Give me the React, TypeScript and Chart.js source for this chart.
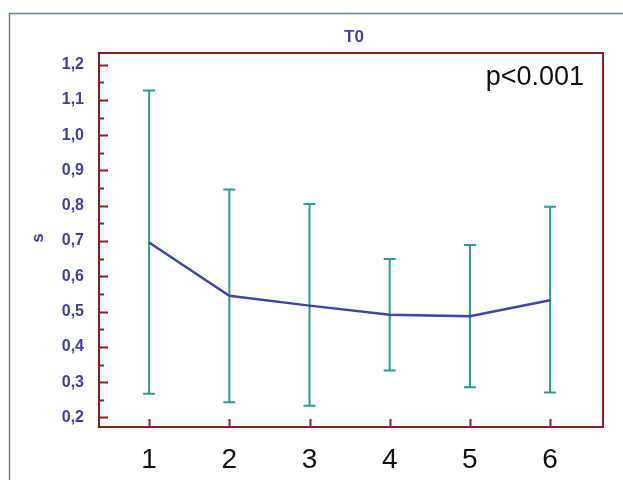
import React, { useEffect, useRef } from "react";
import { Chart, registerables } from "chart.js";

Chart.register(...registerables);

const categories = [1, 2, 3, 4, 5, 6];
const meanValues = [0.696, 0.545, 0.517, 0.491, 0.487, 0.532];
const upperValues = [1.127, 0.846, 0.805, 0.649, 0.689, 0.797];
const lowerValues = [0.267, 0.243, 0.233, 0.333, 0.286, 0.271];
const yTickValues = [0.2, 0.3, 0.4, 0.5, 0.6, 0.7, 0.8, 0.9, 1.0, 1.1, 1.2];
const yMinorTickValues = [0.25, 0.35, 0.45, 0.55, 0.65, 0.75, 0.85, 0.95, 1.05, 1.15];
const xTickValues = [1, 2, 3, 4, 5, 6];
const chartTitle = "T0";
const yAxisTitle = "s";
const annotation = "p<0.001";

const AXIS_RED = "#8e1f1f";
const LABEL_BLUE = "#3f3f9c";
const ERR_TEAL = "#2b9a96";
const LINE_BLUE = "#3b44a8";
const FRAME = "#62808f";
const FONT = "Arial, 'Liberation Sans', sans-serif";

const decorPlugin = {
  id: "decor",
  beforeDatasetsDraw(chart: any) {
    const { ctx, scales } = chart;
    const x = scales.x;
    const y = scales.y;
    ctx.save();
    ctx.strokeStyle = ERR_TEAL;
    ctx.lineWidth = 2;
    categories.forEach((c, i) => {
      const px = x.getPixelForValue(c);
      const pu = y.getPixelForValue(upperValues[i]);
      const pl = y.getPixelForValue(lowerValues[i]);
      ctx.beginPath();
      ctx.moveTo(px, pu);
      ctx.lineTo(px, pl);
      ctx.moveTo(px - 6, pu);
      ctx.lineTo(px + 6, pu);
      ctx.moveTo(px - 6, pl);
      ctx.lineTo(px + 6, pl);
      ctx.stroke();
    });
    ctx.restore();
  },
  afterDraw(chart: any) {
    const { ctx, chartArea, scales } = chart;
    const x = scales.x;
    const y = scales.y;
    const { left, right, top, bottom } = chartArea;
    ctx.save();
    // outer frame
    ctx.strokeStyle = FRAME;
    ctx.lineWidth = 1.5;
    ctx.beginPath();
    ctx.moveTo(9.5, 490);
    ctx.lineTo(9.5, 13.5);
    ctx.lineTo(640, 13.5);
    ctx.stroke();
    // plot frame
    ctx.strokeStyle = AXIS_RED;
    ctx.lineWidth = 2;
    ctx.strokeRect(left, top, right - left, bottom - top);
    // ticks
    ctx.beginPath();
    yTickValues.forEach((v) => {
      const py = Math.round(y.getPixelForValue(v)) + 0.5;
      ctx.moveTo(left, py);
      ctx.lineTo(left + 9, py);
    });
    yMinorTickValues.forEach((v) => {
      const py = Math.round(y.getPixelForValue(v)) + 0.5;
      ctx.moveTo(left, py);
      ctx.lineTo(left + 5, py);
    });
    xTickValues.forEach((v) => {
      const px = Math.round(x.getPixelForValue(v)) + 0.5;
      ctx.moveTo(px, bottom);
      ctx.lineTo(px, bottom - 8);
    });
    ctx.stroke();
    // title
    ctx.fillStyle = LABEL_BLUE;
    ctx.font = "bold 17px " + FONT;
    ctx.textAlign = "center";
    ctx.textBaseline = "middle";
    ctx.fillText(chartTitle, 354, 37);
    // y title
    ctx.save();
    ctx.translate(38, 238);
    ctx.rotate(-Math.PI / 2);
    ctx.font = "bold 17px " + FONT;
    ctx.fillText(yAxisTitle, 0, 0);
    ctx.restore();
    // annotation
    ctx.fillStyle = "#111";
    ctx.font = "27px " + FONT;
    ctx.textAlign = "right";
    ctx.textBaseline = "alphabetic";
    ctx.fillText(annotation, 584, 85);
    ctx.restore();
  },
};

export default function App() {
  const ref = useRef<HTMLCanvasElement | null>(null);
  useEffect(() => {
    document.body.style.margin = "0";
    const canvas = ref.current;
    if (!canvas) return;
    const chart = new Chart(canvas, {
      type: "line",
      data: {
        datasets: [
          {
            data: categories.map((c, i) => ({ x: c, y: meanValues[i] })),
            borderColor: LINE_BLUE,
            borderWidth: 2.5,
            pointRadius: 0,
            fill: false,
            tension: 0,
          },
        ],
      },
      options: {
        animation: false,
        responsive: false,
        events: [],
        layout: { padding: { top: 53, right: 20, left: 0, bottom: 0 } },
        plugins: {
          legend: { display: false },
          title: { display: false },
          tooltip: { enabled: false },
        },
        scales: {
          x: {
            type: "linear",
            min: 0.375,
            max: 6.66,
            grid: { display: false },
            border: { display: false },
            afterBuildTicks: (s: any) => {
              s.ticks = xTickValues.map((v) => ({ value: v }));
            },
            afterFit: (s: any) => {
              s.height = 53;
            },
            ticks: {
              autoSkip: false,
              maxRotation: 0,
              padding: 8,
              color: "#111",
              font: { size: 28, family: FONT },
              callback: (v: any) => String(v),
            },
          },
          y: {
            type: "linear",
            min: 0.173,
            max: 1.233,
            grid: { display: false },
            border: { display: false },
            afterBuildTicks: (s: any) => {
              s.ticks = yTickValues.map((v) => ({ value: v }));
            },
            afterFit: (s: any) => {
              s.width = 99;
            },
            ticks: {
              autoSkip: false,
              padding: 7,
              color: LABEL_BLUE,
              font: { size: 16, weight: "bold", family: FONT },
              callback: (v: any) => Number(v).toFixed(1).replace(".", ","),
            },
          },
        },
      },
      plugins: [decorPlugin],
    } as any);
    return () => chart.destroy();
  }, []);
  return (
    <div style={{ width: 623, height: 480 }}>
      <canvas ref={ref} width={623} height={480} style={{ display: "block", width: 623, height: 480 }} />
    </div>
  );
}
